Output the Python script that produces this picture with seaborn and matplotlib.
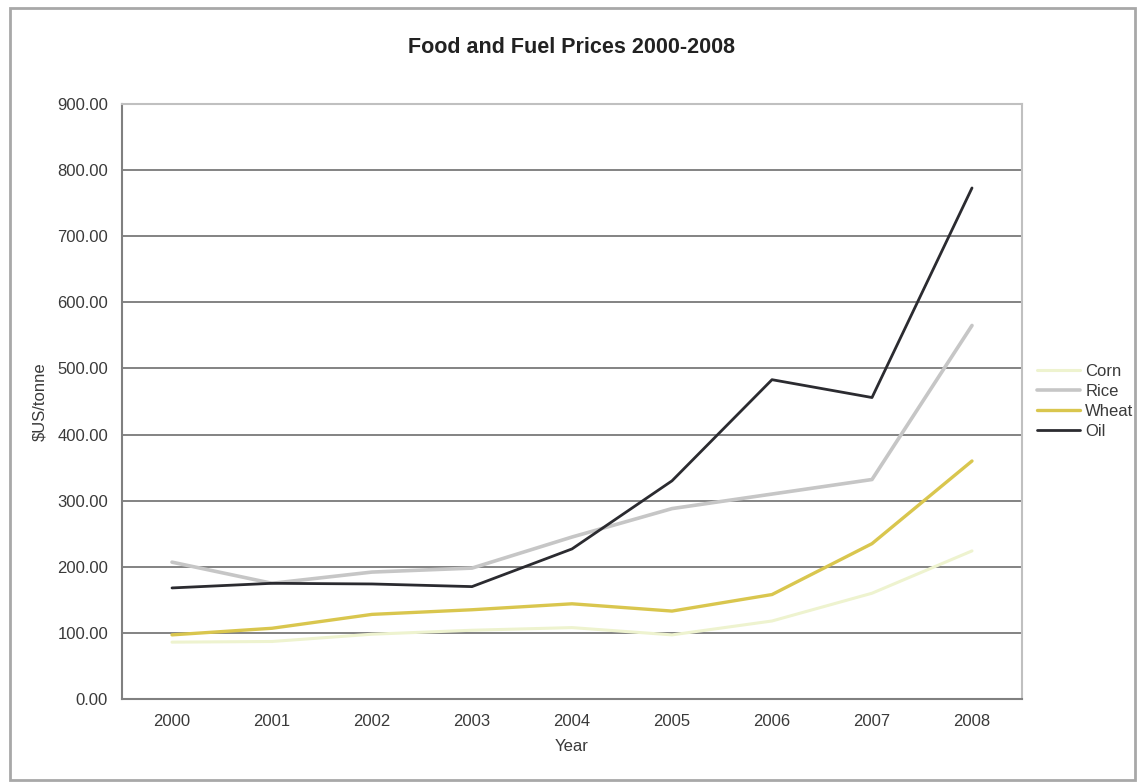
import matplotlib
matplotlib.use("Agg")
import matplotlib.pyplot as plt
from matplotlib.patches import Rectangle
import seaborn as sns
import pandas as pd
import numpy as np

years = [2000, 2001, 2002, 2003, 2004, 2005, 2006, 2007, 2008]
corn = [86, 87, 98, 104, 108, 97, 118, 160, 224]
rice = [207, 175, 192, 198, 245, 288, 310, 332, 565]
wheat = [97, 107, 128, 135, 144, 133, 158, 235, 360]
oil = [168, 175, 174, 170, 227, 330, 483, 456, 773]
series_names = ["Corn", "Rice", "Wheat", "Oil"]
colors = {"Corn": "#eef3cf", "Rice": "#c6c6c6", "Wheat": "#d9c64e", "Oil": "#2b2b30"}
widths = {"Corn": 2.2, "Rice": 2.6, "Wheat": 2.4, "Oil": 2.0}

sns.set_style("white")
plt.rcParams['font.family'] = ['Liberation Sans', 'DejaVu Sans']

rows = []
for name, vals in zip(series_names, [corn, rice, wheat, oil]):
    for y, v in zip(years, vals):
        rows.append({"Year": y, "Price": v, "Series": name})
df = pd.DataFrame(rows)

fig = plt.figure(figsize=(11.43, 7.82), dpi=100)
fig.patches.append(Rectangle((10/1143, 1-780/782), 1125/1143, 772/782, transform=fig.transFigure,
                             fill=False, edgecolor="#a8a8a8", linewidth=2))
ax = fig.add_axes([122/1143, 1-699/782, 900/1143, 595/782])

for name in series_names:
    sns.lineplot(data=df[df.Series == name], x="Year", y="Price", color=colors[name],
                 linewidth=widths[name], ax=ax, label=name, legend=False)

txt = "#3a3a3a"
ax.set_xlim(1999.5, 2008.5)
ax.set_ylim(0, 900)
ax.set_yticks(np.arange(0, 901, 100))
ax.set_yticklabels([f"{v:.2f}" for v in np.arange(0, 901, 100)], fontsize=12, color=txt)
ax.set_xticks(years)
ax.set_xticklabels([str(y) for y in years], fontsize=12, color=txt)
ax.set_xticks(np.arange(1999.5, 2008.6, 1), minor=True)
ax.tick_params(axis="x", which="major", length=0, pad=11)
ax.tick_params(axis="x", which="minor", length=4, color="#808080", width=1)
ax.tick_params(axis="y", which="major", length=4, color="#808080", width=1, pad=6)
ax.yaxis.grid(True, color="#6e6e6e", linewidth=1.2)
ax.set_axisbelow(True)
for s in ["left", "bottom"]:
    ax.spines[s].set_color("#808080")
    ax.spines[s].set_linewidth(1.5)
for s in ["top", "right"]:
    ax.spines[s].set_color("#c0c0c0")
    ax.spines[s].set_linewidth(1.5)

ax.set_xlabel("Year", fontsize=12, color=txt, labelpad=7)
ax.set_ylabel("$US/tonne", fontsize=12, color=txt, labelpad=7)
ax.set_title("Food and Fuel Prices 2000-2008", fontsize=15.5, fontweight="bold", pad=37, color="#222222")

handles, labels = ax.get_legend_handles_labels()
fig.legend(handles, labels, loc="center left", bbox_to_anchor=(1037/1143, 1-401/782),
           frameon=False, fontsize=12, handlelength=2.6, handletextpad=0.3,
           labelspacing=0.3, borderpad=0, borderaxespad=0, labelcolor=txt)

fig.savefig("out.png", dpi=100)
